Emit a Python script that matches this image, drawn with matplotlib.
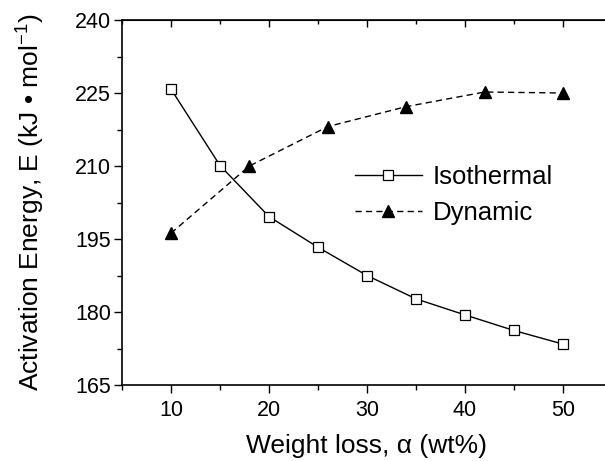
import matplotlib
matplotlib.use('Agg')
import matplotlib.pyplot as plt
from matplotlib.ticker import MultipleLocator

plt.rcParams['font.family'] = ['Liberation Sans', 'DejaVu Sans']
plt.rcParams['mathtext.fontset'] = 'custom'
plt.rcParams['mathtext.rm'] = 'Liberation Sans'
plt.rcParams['mathtext.it'] = 'Liberation Sans'

# data
iso_x = [10, 15, 20, 25, 30, 35, 40, 45, 50]
iso_E = [225.8, 210.1, 199.6, 193.3, 187.5, 182.7, 179.4, 176.2, 173.4]
dyn_x = [10, 18, 26, 34, 42, 50]
dyn_E = [196.2, 210.0, 218.1, 222.2, 225.2, 225.0]

fig = plt.figure(figsize=(6.05, 4.61), dpi=100)
# axes runs past the right edge, as in the cropped original
ax = fig.add_axes([122/605, 1 - 385/461, 490/605, 365/461])

ax.plot(iso_x, iso_E, '-', color='black', lw=1.0, marker='s', ms=6.5,
        mfc='white', mec='black', mew=0.9, label='Isothermal')
ax.plot(dyn_x, dyn_E, '--', color='black', lw=1.0, dashes=(4.5, 3), marker='^',
        ms=9, mfc='black', mec='black', label='Dynamic')

ax.set_xlim(5, 55)
ax.set_ylim(165, 240)
ax.xaxis.set_major_locator(MultipleLocator(10))
ax.xaxis.set_minor_locator(MultipleLocator(5))
ax.yaxis.set_major_locator(MultipleLocator(15))
ax.yaxis.set_minor_locator(MultipleLocator(7.5))
ax.tick_params(which='major', direction='out', length=6, width=1, labelsize=15.5, pad=2)
ax.tick_params(which='minor', direction='out', length=3.5, width=1)
ax.tick_params(axis='x', which='major', pad=5)

top = ax.secondary_xaxis('top')
top.xaxis.set_major_locator(MultipleLocator(10))
top.xaxis.set_minor_locator(MultipleLocator(5))
top.tick_params(which='major', direction='in', length=5, width=1, labeltop=False)
top.tick_params(which='minor', direction='in', length=3, width=1)

for s in ax.spines.values():
    s.set_linewidth(1.2)

ax.set_xlabel('Weight loss, \u03b1 (wt%)', fontsize=19, labelpad=9)
ax.set_ylabel('Activation Energy, E (kJ \u2022 mol$^{-1}$)', fontsize=19, labelpad=20)

ax.legend(loc='upper left', bbox_to_anchor=(355/605, 1 - 165/461),
          bbox_transform=fig.transFigure, frameon=False, fontsize=18.5,
          handlelength=2.6, handletextpad=0.43, labelspacing=0.45,
          borderpad=0, borderaxespad=0)

fig.savefig('out.png', dpi=100)
